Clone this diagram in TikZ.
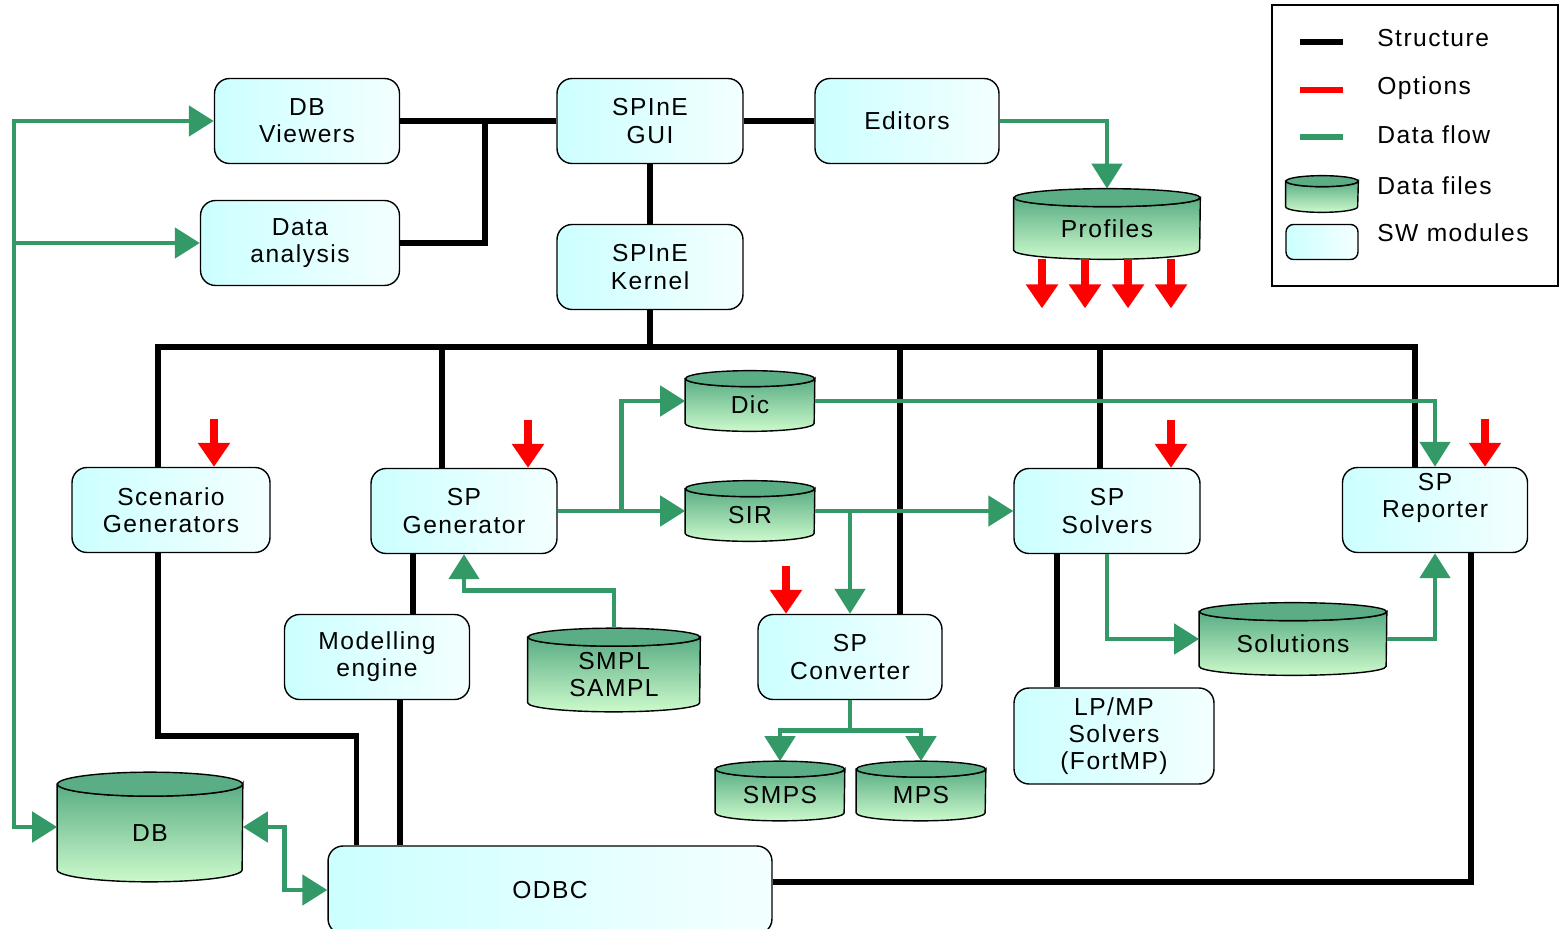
\documentclass[tikz,border=0pt]{standalone}
\usepackage{fontspec}
\setmainfont{Liberation Sans}[LetterSpace=6]
\usetikzlibrary{arrows.meta, calc}

\definecolor{boxcyan}{HTML}{CCFFFF}
\definecolor{boxwhite}{HTML}{F4FFFF}
\definecolor{filetop}{HTML}{5AAD84}
\definecolor{filebot}{HTML}{CCFACC}
\definecolor{flowgreen}{HTML}{339966}

\tikzset{
    module/.style={draw, thick, rounded corners=0.3cm, left color=boxcyan, right color=boxwhite,
        minimum width=3.7cm, minimum height=1.7cm, align=center, inner sep=0pt},
    structure/.style={line width=3.2pt},
    flowtip/.tip={Triangle[width=0.6cm, length=0.5cm]},
    flow/.style={flowgreen, line width=2.8pt, -flowtip},
    option/.style={red, line width=4.4pt, -{Triangle[width=0.62cm, length=0.48cm]}},
}

% data file cylinder: [lid], name, centre, width, height, text
\newcommand{\datafile}[6][0.18cm]{%
    \node[inner sep=0pt, minimum width=#4, minimum height=#5] (#2) at (#3) {};
    \shade[top color=filetop, bottom color=filebot, draw, thick]
        ([yshift=-#1]#2.north west) -- ([yshift=#1]#2.south west)
        arc[start angle=180, end angle=360, x radius=#4/2, y radius=#1]
        -- ([yshift=-#1]#2.north east)
        arc[start angle=0, end angle=-180, x radius=#4/2, y radius=#1] -- cycle;
    \filldraw[fill=filetop, thick] ([yshift=-#1]#2.north) ellipse[x radius=#4/2, y radius=#1];
    \node[align=center] (#2text) at ([yshift=-#1/2]#2.center) {#6};
}

\begin{document}
\begin{tikzpicture}[x=0.02cm, y=-0.02cm, font=\fontsize{14}{15.5}\selectfont]

    \useasboundingbox (0,0) rectangle (1561,929);

    % Modules
    \node[module] (dbview) at (307,121) {DB\\Viewers};
    \node[module, minimum width=3.98cm] (danal) at (300,243) {Data\\analysis};
    \node[module, minimum width=3.72cm] (gui) at (650,121) {SPInE\\GUI};
    \node[module, minimum width=3.68cm] (editors) at (907,121) {Editors};
    \node[module, minimum width=3.72cm] (kernel) at (650,267) {SPInE\\Kernel};
    \node[module, minimum width=3.96cm] (scen) at (171,510) {Scenario\\Generators};
    \node[module, minimum width=3.72cm] (spgen) at (464,511) {SP\\Generator};
    \node[module, minimum width=3.72cm] (solv) at (1107,511) {SP\\Solvers};
    \node[module, text depth=17pt] (rep) at (1435,510) {SP\\Reporter};
    \node[module] (model) at (377,657) {Modelling\\engine};
    \node[module, minimum width=3.68cm] (conv) at (850,657) {SP\\Converter};
    \node[module, minimum width=4cm, minimum height=1.92cm] (lpmp) at (1114,736) {LP/MP\\Solvers\\(FortMP)};
    \node[module, minimum width=8.88cm, minimum height=1.76cm] (odbc) at (550,890) {ODBC};

    % Data files
    \datafile{profiles}{1107,224}{3.72cm}{1.4cm}{Profiles}
    \datafile[0.16cm]{dic}{750,401}{2.58cm}{1.2cm}{Dic}
    \datafile[0.16cm]{sir}{750,511}{2.58cm}{1.2cm}{SIR}
    \datafile{smpl}{614,670}{3.44cm}{1.66cm}{SMPL\\SAMPL}
    \datafile[0.16cm]{smps}{780,791}{2.58cm}{1.18cm}{SMPS}
    \datafile[0.16cm]{mps}{921,791}{2.58cm}{1.18cm}{MPS}
    \datafile{solutions}{1293,639}{3.74cm}{1.44cm}{Solutions}
    \datafile[0.24cm]{db}{150,827}{3.7cm}{2.18cm}{DB}

    % Structure
    \coordinate (tapscen) at (158,347);
    \coordinate (tapgen) at (442,347);
    \coordinate (tapconv) at (900,347);
    \coordinate (tapsolv) at (1100,347);
    \coordinate (taprep) at (1415,347);
    \coordinate (xda) at (485,0);
    \coordinate (xgm) at (413,0);
    \coordinate (xmo) at (400,0);
    \coordinate (xsl) at (1057,0);
    \coordinate (xro) at (1471,0);
    \draw[structure] (dbview.east) -- (gui.west);
    \draw[structure] (danal.east) -| (xda |- dbview.east);
    \draw[structure] (gui.east) -- (editors.west);
    \draw[structure] (gui.south) -- (kernel.north);
    \draw[structure] (kernel.south) -- (kernel.south |- tapgen);
    \draw[structure] (tapscen |- scen.north) -- (tapscen) -- (taprep) -- (taprep |- rep.north);
    \foreach \t/\n in {tapgen/spgen, tapconv/conv, tapsolv/solv}
        \draw[structure] (\t) -- (\t |- \n.north);
    \draw[structure] (tapscen |- scen.south) -- ++(0,183) -| ($(odbc.north west)+(29,0)$);
    \draw[structure] (xgm |- spgen.south) -- (xgm |- model.north);
    \draw[structure] (xmo |- model.south) -- (xmo |- odbc.north);
    \draw[structure] (xsl |- solv.south) -- (xsl |- lpmp.north);
    \draw[structure] (xro |- rep.south) |- ($(odbc.east)+(0,-8)$);

    % Data flow
    \coordinate (spine) at (14,121);
    \draw[flow, flowtip-flowtip] (dbview.west) -- (spine) |- (db.west);
    \draw[flow] (spine |- danal.west) -- (danal.west);
    \draw[flow, flowtip-flowtip] (db.east) -- ++(42,0) |- (odbc.west);
    \draw[flow] (editors.east) -| (profiles.north);
    \draw[flow] (spgen.east) -- (sir.west);
    \draw[flow] ($(spgen.east)!0.5!(sir.west)$) |- (dic.west);
    \draw[flow] (dic.east) -| (rep.north);
    \draw[flow] (sir.east) -- (solv.west);
    \draw[flow] (sir.east -| conv.north) -- (conv.north);
    \draw[flow] (smpl.north) -- ++(0,-38) -| (spgen.south);
    \draw[flow] (conv.south) -- ++(0,30) -| (smps.north);
    \draw[flow] (conv.south) ++(0,30) -| (mps.north);
    \draw[flow] (solv.south) |- (solutions.west);
    \draw[flow] (solutions.east) -| (rep.south);

    % Options
    \draw[option] (scen.north) ++(43,-48) -- ++(0,48);
    \draw[option] (spgen.north) ++(64,-48) -- ++(0,48);
    \draw[option] (conv.north) ++(-64,-48) -- ++(0,48);
    \draw[option] (solv.north) ++(64,-48) -- ++(0,48);
    \draw[option] (rep.north) ++(50,-48) -- ++(0,48);
    \foreach \dx in {-65,-22,21,64}
        \draw[option] ($(profiles.south)+(\dx,0)$) -- ++(0,49);

    % Legend
    \draw[semithick] (1272,5) rectangle (1558,286);
    \draw[structure] (1300,42) -- (1343,42);
    \draw[red, line width=3.2pt] (1300,90) -- (1343,90);
    \draw[flowgreen, line width=3.2pt] (1300,137) -- (1343,137);
    \datafile[0.11cm]{legfile}{1322,194}{1.44cm}{0.72cm}{}
    \node[module, minimum width=1.44cm, minimum height=0.7cm, rounded corners=0.15cm] (legmod) at (1322,242) {};
    \node[anchor=west, inner xsep=0pt] (legstruct) at (1377,38) {Structure};
    \node[anchor=west, inner xsep=0pt] (legopt) at (1377,88) {Options};
    \node[anchor=west, inner xsep=0pt] (legflow) at (1377,135) {Data flow};
    \node[anchor=west, inner xsep=0pt] (legfiles) at (1377,186) {Data files};
    \node[anchor=west, inner xsep=0pt] (legmods) at (1377,233) {SW modules};

\end{tikzpicture}
\end{document}
